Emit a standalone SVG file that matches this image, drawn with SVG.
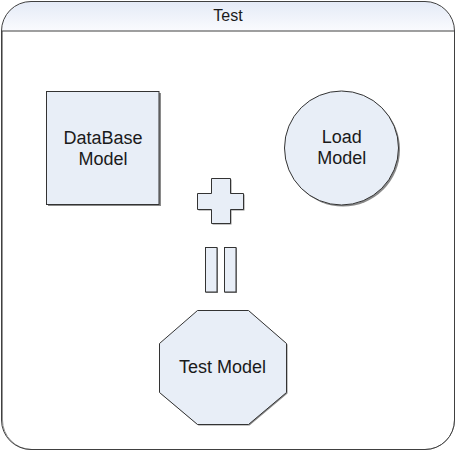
<svg xmlns="http://www.w3.org/2000/svg" width="456" height="451" viewBox="0 0 456 451">
<style>
.shape{fill:#e8eef7;stroke:#333;stroke-width:1}
.shadow{fill:#8a8a8a;stroke:none}
.lbl{font-family:"Liberation Sans",Arial,sans-serif;font-size:18px;fill:#1a1a1a;text-anchor:middle}
.title{font-family:"Liberation Sans",Arial,sans-serif;font-size:16px;fill:#1a1a1a;text-anchor:middle}
</style>
<defs>
<linearGradient id="hdr" x1="0" y1="0" x2="0" y2="1">
<stop offset="0" stop-color="#e4eaf6"/>
<stop offset="1" stop-color="#fafbfe"/>
</linearGradient>
</defs>
<rect width="456" height="451" fill="#fff"/>
<g id="container">
<path d="M1.5,31 A29.5,29.5 0 0 1 31,1.5 H425 A29.5,29.5 0 0 1 454.5,31 Z" fill="url(#hdr)"/>
<path d="M2.5,31 V420 A29.5,29.5 0 0 0 32,449.5 H425 A29.5,29.5 0 0 0 454.5,420 V31" fill="none" stroke="#999" stroke-width="1"/>
<path d="M1.5,31 A29.5,29.5 0 0 1 31,1.5 H425 A29.5,29.5 0 0 1 454.5,31 V420 A29.5,29.5 0 0 1 425,449.5 H31 A29.5,29.5 0 0 1 1.5,420 Z" fill="none" stroke="#404040" stroke-width="1"/>
<line x1="1.5" y1="31" x2="454.5" y2="31" stroke="#404040" stroke-width="1"/>
<text class="title" x="228" y="20.5">Test</text>
</g>
<g id="database">
<rect class="shadow" x="48" y="93" width="113" height="113"/>
<rect class="shape" x="46.5" y="91.5" width="112.5" height="113"/>
<text class="lbl" x="103" y="144">DataBase</text>
<text class="lbl" x="103" y="165">Model</text>
</g>
<g id="load">
<circle class="shadow" cx="343" cy="149.5" r="57"/>
<circle class="shape" cx="341.5" cy="148" r="57"/>
<text class="lbl" x="341.7" y="142.5">Load</text>
<text class="lbl" x="341.7" y="164">Model</text>
</g>
<g id="plus">
<path class="shadow" d="M212.5,179.5 H231.5 V194.5 H244.5 V210.5 H231.5 V224.5 H212.5 V210.5 H198.5 V194.5 H212.5 Z"/>
<path class="shape" d="M211.5,178.5 H230.5 V193.5 H243.5 V209.5 H230.5 V223.5 H211.5 V209.5 H197.5 V193.5 H211.5 Z"/>
</g>
<g id="equals">
<rect class="shadow" x="206" y="248" width="12" height="45"/>
<rect class="shadow" x="225" y="248" width="12" height="45"/>
<rect class="shape" x="205.5" y="247.5" width="11.5" height="44.5"/>
<rect class="shape" x="224.5" y="247.5" width="11.5" height="44.5"/>
</g>
<g id="testmodel">
<path class="shadow" d="M198.5,311.5 H249.5 L287.5,344.5 V393.5 L249.5,425.5 H198.5 L160.5,393.5 V344.5 Z"/>
<path class="shape" d="M197.5,310.5 H248.5 L286.5,343.5 V392.5 L248.5,424.5 H197.5 L159.5,392.5 V343.5 Z"/>
<text class="lbl" x="222.5" y="372.5">Test Model</text>
</g>
</svg>
